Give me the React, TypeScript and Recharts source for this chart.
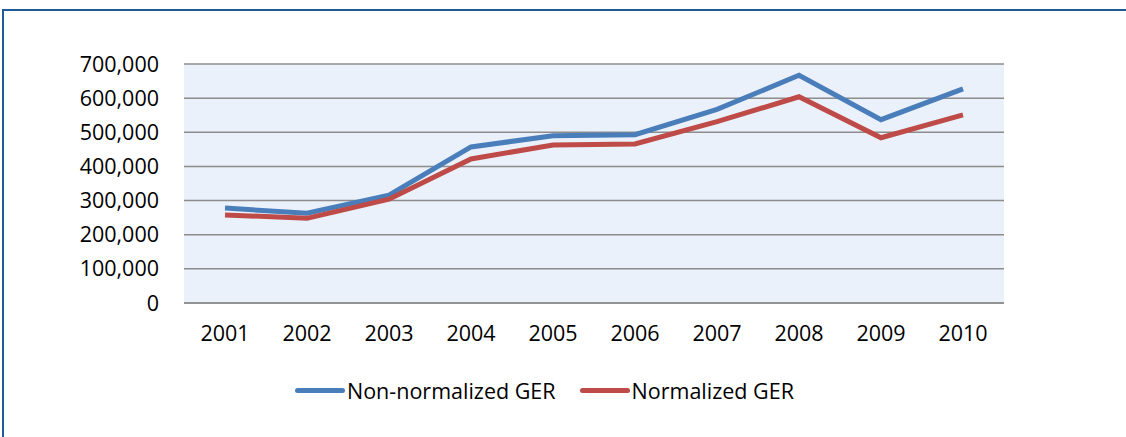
import { LineChart, Line, XAxis, YAxis, CartesianGrid } from "recharts";

const years = ["2001", "2002", "2003", "2004", "2005", "2006", "2007", "2008", "2009", "2010"];
const nonNormalized = [278000, 263000, 316000, 457000, 490000, 493000, 567000, 667000, 537000, 627000];
const normalized = [258000, 248000, 304000, 422000, 463000, 466000, 531000, 604000, 484000, 551000];
const yTicks = [0, 100000, 200000, 300000, 400000, 500000, 600000, 700000];

const data = years.map((year, i) => ({
  year,
  nonNormalized: nonNormalized[i],
  normalized: normalized[i],
}));

const FONT = "'Open Sans', sans-serif";
const FONT_SIZE = 21.5;

const legendItems = [
  { label: "Non-normalized GER", color: "#4A7EBB" },
  { label: "Normalized GER", color: "#BE4B48" },
];

const ChartLegend = () => (
  <div
    style={{
      position: "absolute",
      left: 295,
      top: 376,
      display: "flex",
      fontFamily: FONT,
      fontSize: FONT_SIZE,
      color: "#000",
    }}
  >
    {legendItems.map((item, i) => (
      <div key={item.label} style={{ display: "flex", alignItems: "center", marginLeft: i ? 24 : 0 }}>
        <span
          style={{
            display: "inline-block",
            width: 50,
            height: 5,
            borderRadius: 3,
            background: item.color,
            marginRight: 2,
          }}
        />
        <span>{item.label}</span>
      </div>
    ))}
  </div>
);

const App = () => (
  <div style={{ position: "fixed", left: 0, top: 0, width: 1126, height: 437, background: "#fff", overflow: "hidden" }}>
    <div
      style={{
        position: "absolute",
        left: 2,
        top: 9,
        width: 1200,
        height: 500,
        borderTop: "2px solid #1F5A9A",
        borderLeft: "2px solid #1F5A9A",
      }}
    />
    <div style={{ position: "absolute", left: 0, top: 0 }}>
      <LineChart
        width={1126}
        height={437}
        data={data}
        margin={{ top: 64, right: 122, left: 104, bottom: 94 }}
      >
        <CartesianGrid vertical={false} fill="#EAF1FA" stroke="#8C8C8C" strokeWidth={1.5} />
        <XAxis
          dataKey="year"
          height={40}
          padding={{ left: 41, right: 41 }}
          tickLine={false}
          axisLine={{ stroke: "#8C8C8C", strokeWidth: 1.5 }}
          tick={{ fill: "#000", fontSize: FONT_SIZE, fontFamily: FONT }}
          tickMargin={17}
        />
        <YAxis
          width={80}
          domain={[0, 700000]}
          ticks={yTicks}
          axisLine={false}
          tickLine={false}
          tickMargin={19}
          tickFormatter={(v: number) => v.toLocaleString("en-US")}
          tick={{ fill: "#000", fontSize: FONT_SIZE, fontFamily: FONT }}
        />
        <Line
          dataKey="nonNormalized"
          name="Non-normalized GER"
          stroke="#4A7EBB"
          strokeWidth={5}
          dot={false}
          isAnimationActive={false}
        />
        <Line
          dataKey="normalized"
          name="Normalized GER"
          stroke="#BE4B48"
          strokeWidth={5}
          dot={false}
          isAnimationActive={false}
        />
      </LineChart>
    </div>
    <ChartLegend />
  </div>
);

export default App;
